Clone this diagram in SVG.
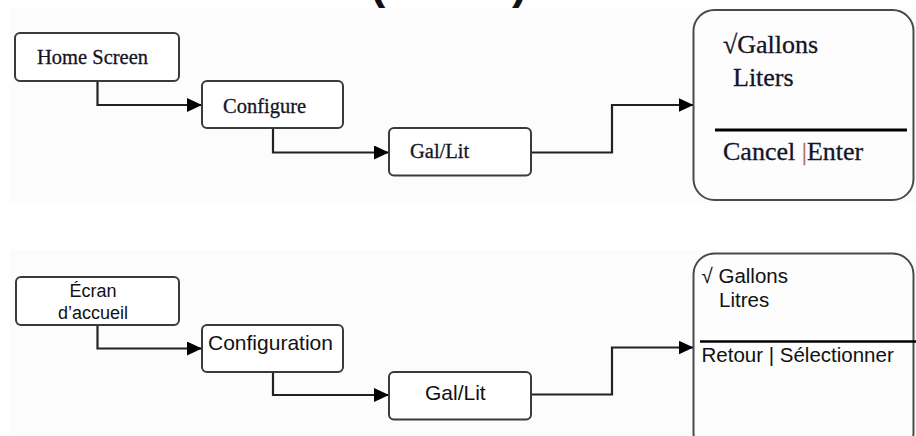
<svg xmlns="http://www.w3.org/2000/svg" width="916" height="436" viewBox="0 0 916 436">
<defs>
<style>
.panel{fill:#fbfcfb;stroke:none}
.box{fill:#ffffff;stroke:#3a3a3a;stroke-width:2}
.big{fill:#fcfdfc;stroke:#4a4a4a;stroke-width:2}
.conn{fill:none;stroke:#222;stroke-width:2.2}
.ser{font-family:"Liberation Serif","Times New Roman",serif;fill:#141428;stroke:#141428;stroke-width:0.3}
.san{font-family:"Liberation Sans",Arial,sans-serif;fill:#111}
.par{font-family:"Liberation Sans",Arial,sans-serif;font-weight:bold;font-size:46px;fill:#111}
</style>
<marker id="ah" viewBox="0 0 15 14" refX="15" refY="7" markerWidth="15" markerHeight="14" markerUnits="userSpaceOnUse" orient="auto">
<path d="M0,0 L15,7 L0,14 Z" fill="#000"/>
</marker>
</defs>
<rect width="916" height="436" fill="#ffffff"/>
<text class="par" x="370" y="-2">(</text>
<text class="par" x="512" y="-2">)</text>
<rect class="panel" x="10" y="8" width="906" height="195"/>
<rect class="panel" x="10" y="250" width="906" height="186"/>

<g id="connectors">
<path class="conn" d="M97.5,81 V105 H202" marker-end="url(#ah)"/>
<path class="conn" d="M273,128 V152.5 H389" marker-end="url(#ah)"/>
<path class="conn" d="M531,152.5 H612 V105 H693.5" marker-end="url(#ah)"/>
<path class="conn" d="M97.5,325 V348.5 H202" marker-end="url(#ah)"/>
<path class="conn" d="M273,372 V395 H389" marker-end="url(#ah)"/>
<path class="conn" d="M531,394.5 H612 V347.5 H693.5" marker-end="url(#ah)"/>
</g>

<g id="home-screen">
<rect class="box" x="15" y="33" width="164" height="48" rx="5"/>
<text class="ser" x="37" y="64" font-size="20.5">Home Screen</text>
</g>
<g id="configure">
<rect class="box" x="202" y="81" width="141" height="47" rx="5"/>
<text class="ser" x="223" y="113" font-size="20.5">Configure</text>
</g>
<g id="gal-lit-en">
<rect class="box" x="389" y="128" width="142" height="47.5" rx="5"/>
<text class="ser" x="410" y="158" font-size="20.5">Gal/Lit</text>
</g>
<g id="screen-en">
<rect class="big" x="693.5" y="10" width="220" height="190" rx="21"/>
<text class="ser" x="723" y="53" font-size="26">√Gallons</text>
<text class="ser" x="733" y="86" font-size="26">Liters</text>
<line x1="715" y1="130" x2="907" y2="130" stroke="#000" stroke-width="3"/>
<text class="ser" x="723" y="160" font-size="26">Cancel <tspan fill="#b07050" stroke="#b07050">|</tspan>Enter</text>
</g>

<g id="ecran-accueil">
<rect class="box" x="16" y="277" width="163" height="48" rx="5"/>
<text class="san" x="93" y="296.5" font-size="18" text-anchor="middle">Écran</text>
<text class="san" x="93" y="319" font-size="18" text-anchor="middle">d’accueil</text>
</g>
<g id="configuration">
<rect class="box" x="202" y="325" width="141" height="47" rx="5"/>
<text class="san" x="208" y="350" font-size="21">Configuration</text>
</g>
<g id="gal-lit-fr">
<rect class="box" x="389" y="372" width="142" height="47.5" rx="5"/>
<text class="san" x="425" y="400" font-size="21">Gal/Lit</text>
</g>
<g id="screen-fr">
<rect class="big" x="693.5" y="253.5" width="220" height="200" rx="21"/>
<text class="san" x="701.5" y="283" font-size="20.5">√ Gallons</text>
<text class="san" x="719" y="306.5" font-size="20.5">Litres</text>
<line x1="700" y1="341.5" x2="916" y2="341.5" stroke="#000" stroke-width="2.5"/>
<text class="san" x="701.5" y="361.5" font-size="20.5">Retour | Sélectionner</text>
</g>
</svg>
